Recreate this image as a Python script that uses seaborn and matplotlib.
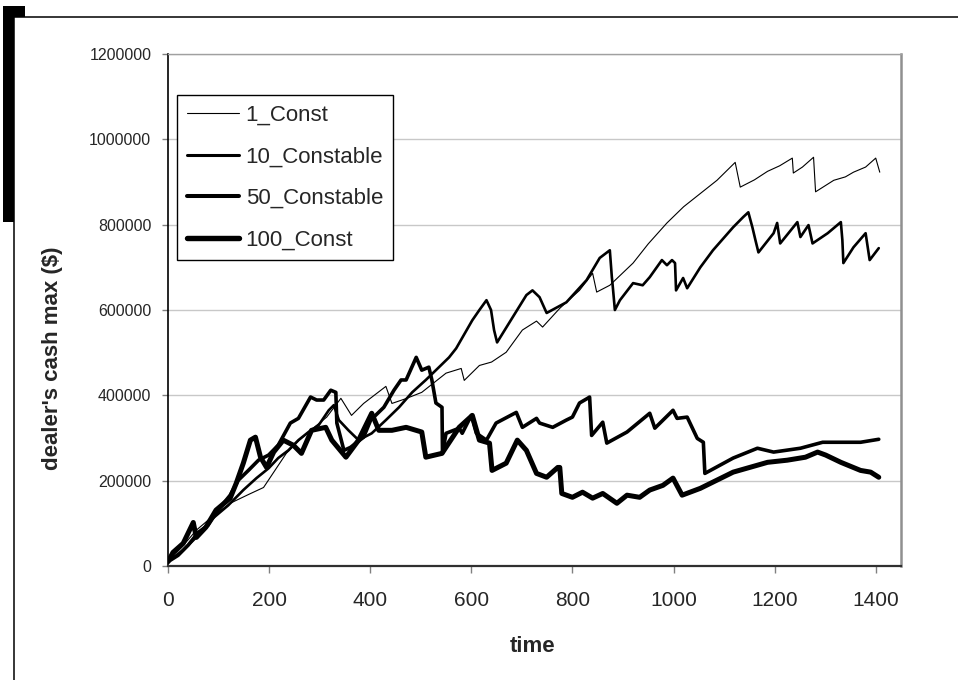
import matplotlib
matplotlib.use("Agg")
import matplotlib.pyplot as plt
import seaborn as sns
import pandas as pd
from matplotlib.lines import Line2D
from matplotlib.patches import Rectangle

# ---- data -------------------------------------------------------------
series_names = ["1_Const", "10_Constable", "50_Constable", "100_Const"]

t_1 = [0, 28, 56, 90, 123, 160, 189, 234, 260, 282, 314, 342, 363, 387, 431,
       443, 470, 502, 550, 580, 586, 616, 640, 669, 701, 729, 741, 775, 814,
       840, 848, 874, 920, 950, 987, 1020, 1053, 1086, 1122, 1132, 1160, 1186,
       1210, 1235, 1237, 1255, 1277, 1281, 1317, 1340, 1356, 1380, 1400, 1408]
v_1 = [10000, 45000, 84000, 118000, 147000, 168000, 184000, 264000, 295000,
       318000, 349000, 393000, 353000, 381000, 421000, 381000, 392000, 407000,
       452000, 463000, 435000, 470000, 478000, 501000, 553000, 574000, 560000,
       604000, 646000, 686000, 642000, 658000, 710000, 755000, 804000, 842000,
       873000, 904000, 946000, 888000, 905000, 925000, 938000, 956000, 921000,
       935000, 958000, 877000, 904000, 912000, 923000, 935000, 956000, 923000]

t_10 = [0, 30, 60, 89, 119, 149, 175, 199, 218, 238, 258, 278, 298, 318, 328,
        338, 357, 377, 403, 431, 457, 483, 510, 530, 556, 570, 602, 616, 630,
        639, 645, 651, 675, 709, 721, 735, 749, 788, 828, 854, 874, 878, 880,
        884, 894, 920, 939, 953, 977, 987, 997, 1003, 1005, 1019, 1027, 1053,
        1078, 1118, 1138, 1148, 1156, 1162, 1168, 1198, 1205, 1211, 1245, 1251,
        1267, 1275, 1305, 1331, 1334, 1336, 1356, 1380, 1388, 1406]
v_10 = [10000, 37000, 72000, 112000, 142000, 178000, 206000, 229000, 253000,
        271000, 295000, 314000, 330000, 365000, 377000, 342000, 318000, 295000,
        311000, 342000, 372000, 407000, 436000, 459000, 489000, 510000, 576000,
        600000, 623000, 600000, 553000, 524000, 570000, 635000, 646000, 630000,
        593000, 618000, 670000, 722000, 740000, 677000, 653000, 600000, 623000,
        663000, 658000, 677000, 717000, 705000, 717000, 710000, 646000, 675000,
        651000, 700000, 740000, 794000, 818000, 829000, 794000, 764000, 735000,
        780000, 804000, 756000, 806000, 771000, 799000, 756000, 780000, 806000,
        764000, 710000, 747000, 780000, 717000, 745000]

t_50 = [0, 20, 40, 60, 79, 99, 123, 139, 159, 179, 199, 218, 242, 258, 282,
        294, 308, 322, 332, 334, 348, 361, 387, 401, 427, 447, 461, 471, 491,
        502, 516, 522, 530, 542, 543, 550, 576, 582, 600, 610, 630, 649, 689,
        701, 729, 735, 761, 788, 800, 814, 830, 834, 838, 860, 868, 908, 953,
        963, 999, 1007, 1027, 1047, 1059, 1062, 1118, 1166, 1198, 1251, 1295,
        1350, 1370, 1406]
v_50 = [10000, 25000, 49000, 79000, 95000, 131000, 166000, 201000, 224000,
        248000, 260000, 283000, 335000, 346000, 396000, 389000, 389000, 412000,
        407000, 335000, 271000, 278000, 302000, 342000, 372000, 412000, 436000,
        436000, 489000, 459000, 466000, 436000, 382000, 372000, 264000, 311000,
        323000, 311000, 353000, 311000, 295000, 335000, 360000, 325000, 346000,
        335000, 325000, 342000, 349000, 382000, 393000, 396000, 306000, 337000,
        288000, 314000, 358000, 323000, 365000, 346000, 349000, 299000, 290000,
        217000, 253000, 276000, 267000, 276000, 290000, 290000, 290000, 297000]

t_100 = [0, 10, 30, 50, 56, 75, 95, 123, 135, 149, 163, 173, 183, 195, 209,
         228, 248, 264, 284, 312, 324, 352, 377, 403, 417, 443, 471, 502, 510,
         542, 576, 602, 616, 636, 641, 669, 691, 709, 729, 749, 771, 775, 779,
         800, 820, 840, 860, 888, 908, 933, 953, 979, 999, 1017, 1053, 1118,
         1186, 1225, 1261, 1285, 1301, 1331, 1370, 1390, 1406]
v_100 = [10000, 32000, 53000, 102000, 67000, 91000, 131000, 159000, 194000,
         241000, 295000, 302000, 255000, 231000, 267000, 295000, 283000, 264000,
         318000, 325000, 295000, 255000, 295000, 358000, 318000, 318000, 325000,
         314000, 255000, 264000, 325000, 353000, 295000, 288000, 224000, 241000,
         295000, 271000, 217000, 208000, 231000, 231000, 170000, 161000, 173000,
         159000, 170000, 147000, 166000, 161000, 178000, 189000, 206000, 166000,
         182000, 220000, 243000, 248000, 255000, 267000, 260000, 243000, 224000,
         220000, 208000]

x_ticks = [0, 200, 400, 600, 800, 1000, 1200, 1400]
y_ticks = [0, 200000, 400000, 600000, 800000, 1000000, 1200000]

line_widths = {"1_Const": 0.8, "10_Constable": 1.9, "50_Constable": 2.6,
               "100_Const": 3.6}
legend_widths = {"1_Const": 0.8, "10_Constable": 2.2, "50_Constable": 2.9,
                 "100_Const": 3.9}

frames = []
for name, t, v in zip(series_names, [t_1, t_10, t_50, t_100],
                      [v_1, v_10, v_50, v_100]):
    frames.append(pd.DataFrame({"time": t, "cash": v, "series": name}))
df = pd.concat(frames, ignore_index=True)

# ---- style ------------------------------------------------------------
sns.set_style("white")
plt.rcParams["font.family"] = ["Liberation Sans", "DejaVu Sans"]

W, H = 958, 680
fig = plt.figure(figsize=(W / 100, H / 100), dpi=100)

# page frame with dark block at the upper left corner
fig.patches.append(Rectangle((3 / W, 1 - 222 / H), 22 / W, 216 / H,
                             transform=fig.transFigure, facecolor="black",
                             edgecolor="none", zorder=-3))
fig.patches.append(Rectangle((14 / W, -0.05), 1.2, 1.05 - 17 / H,
                             transform=fig.transFigure, facecolor="white",
                             edgecolor="black", linewidth=1.1, zorder=-2))

ax = fig.add_axes([168 / W, 1 - 566 / H, 733 / W, 512 / H])

sns.lineplot(data=df, x="time", y="cash", hue="series", size="series",
             hue_order=series_names, size_order=series_names,
             palette={n: "black" for n in series_names}, sizes=line_widths,
             sort=False, estimator=None, legend=False, ax=ax)

ax.set_xlim(0, 1450)
ax.set_ylim(0, 1200000)
ax.set_xticks(x_ticks, labels=[str(v) for v in x_ticks])
ax.set_yticks(y_ticks, labels=[str(v) for v in y_ticks])

ax.yaxis.grid(True, color="#c8c8c8", linewidth=1.0)
ax.xaxis.grid(False)
ax.set_axisbelow(True)

ax.spines["left"].set_color("black")
ax.spines["left"].set_linewidth(1.2)
ax.spines["bottom"].set_color("#303030")
ax.spines["bottom"].set_linewidth(1.6)
ax.spines["top"].set_color("#a0a0a0")
ax.spines["top"].set_linewidth(1.0)
ax.spines["right"].set_color("#909090")
ax.spines["right"].set_linewidth(1.8)

ax.tick_params(axis="y", direction="out", length=4, width=1,
               color="#808080", labelsize=11.5, pad=8, left=True)
ax.tick_params(axis="x", direction="out", length=5, width=1,
               color="#808080", labelsize=15, pad=13, bottom=True)

ax.set_ylabel("dealer's cash max ($)", fontsize=16, fontweight="bold")
ax.yaxis.set_label_coords(-0.143, 0.406)
ax.set_xlabel("time", fontsize=16, fontweight="bold")
ax.xaxis.set_label_coords(0.498, -0.137)

handles = [Line2D([], [], color="black", linewidth=legend_widths[n])
           for n in series_names]
leg = ax.legend(handles, series_names, loc="upper left",
                bbox_to_anchor=(0.012, 0.92), borderaxespad=0,
                fontsize=16, frameon=True, fancybox=False, shadow=False,
                handlelength=2.35, handletextpad=0.3, labelspacing=0.92,
                borderpad=0.45)
leg.get_frame().set_edgecolor("black")
leg.get_frame().set_linewidth(1.0)
leg.get_frame().set_facecolor("white")
leg.get_frame().set_alpha(1.0)

fig.savefig("out.png", dpi=100)
